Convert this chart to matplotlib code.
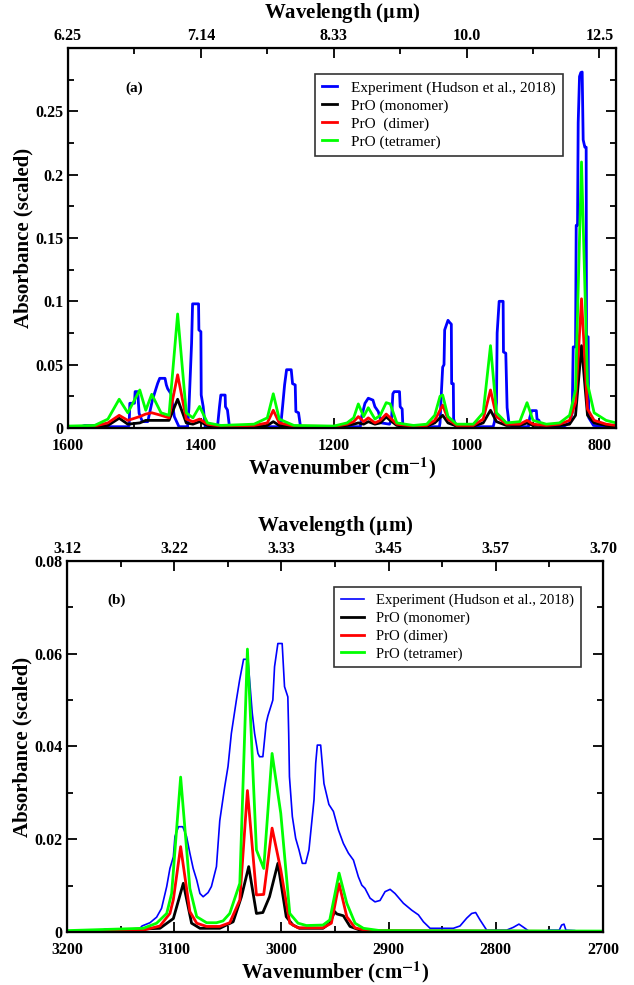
import numpy as np
import matplotlib
matplotlib.use("Agg")
import matplotlib.pyplot as plt
from matplotlib.ticker import MultipleLocator, FixedLocator

plt.rcParams['font.family'] = ['Liberation Serif', 'DejaVu Serif']
plt.rcParams['mathtext.fontset'] = 'stix'

# ---------------- panel (a) data: 1600 - 775 cm-1 ----------------
# experiment (Hudson et al., 2018)
exp_a_wn = [1600, 1580, 1575, 1558, 1555, 1510, 1508, 1507, 1500, 1499, 1495, 1494, 1493, 1488,
            1480, 1473, 1465, 1462, 1454, 1452, 1450, 1445, 1440, 1433, 1420, 1418, 1414, 1412.5,
            1403.5, 1403, 1400, 1399.5, 1396.5, 1393.5, 1375, 1372, 1370, 1363.5, 1363, 1360, 1357,
            1280, 1277, 1274, 1271, 1264, 1262, 1258, 1257, 1253, 1250,
            1160, 1158, 1153, 1148, 1141, 1138, 1133, 1128, 1116, 1113, 1111, 1109, 1101, 1100,
            1097, 1096, 1090,
            1041, 1040, 1038, 1036, 1034, 1033, 1028, 1025, 1023, 1022.5, 1020, 1019.5, 1016,
            960, 958, 955, 954, 951, 945, 944.5, 941, 939, 936, 930,
            907, 905, 902, 895, 894, 891, 888,
            855, 845, 841, 839.5, 836, 835, 833, 832, 830, 828, 826, 824.5, 822, 820, 819.5, 817,
            816.5, 816, 809, 775]
exp_a_val = [0.001, 0.001, 0.002, 0.002, 0.001, 0.001, 0.002, 0.0195, 0.0195, 0.0287, 0.0287, 0.0195,
             0.0116, 0.005, 0.005, 0.022, 0.0353, 0.0392, 0.0392, 0.034, 0.031, 0.027, 0.009, 0.001,
             0.001, 0.0155, 0.067, 0.098, 0.098, 0.0774, 0.076, 0.026, 0.0168, 0.001, 0.001, 0.0168,
             0.026, 0.026, 0.0168, 0.0142, 0.001,
             0.001, 0.017, 0.034, 0.046, 0.046, 0.035, 0.034, 0.013, 0.012, 0.001,
             0.001, 0.009, 0.0195, 0.0235, 0.022, 0.0168, 0.013, 0.004, 0.003, 0.007, 0.027, 0.0287,
             0.0287, 0.0168, 0.015, 0.002, 0.001,
             0.001, 0.004, 0.0276, 0.048, 0.05, 0.0774, 0.085, 0.083, 0.082, 0.035, 0.035, 0.007, 0.001,
             0.001, 0.005, 0.02, 0.075, 0.1, 0.1, 0.06, 0.059, 0.016, 0.003, 0.001,
             0.001, 0.008, 0.0137, 0.0137, 0.007, 0.006, 0.001,
             0.001, 0.004, 0.012, 0.064, 0.064, 0.16, 0.16, 0.241, 0.2775, 0.2806, 0.281, 0.2275,
             0.2217, 0.2217, 0.072, 0.072, 0.027, 0.008, 0.002, 0.001]

# computed spectra (PrO)
calc_a_wn = [1600, 1560, 1540, 1523, 1510, 1492, 1483, 1474, 1460, 1448, 1435, 1422, 1412, 1402,
             1390, 1370, 1320, 1300, 1291, 1282, 1260, 1200, 1180, 1170, 1163, 1155, 1148, 1138,
             1130, 1121, 1115, 1105, 1080, 1060, 1048, 1040, 1036, 1028, 1015, 990, 975, 964, 955,
             940, 920, 909, 900, 880, 860, 845, 836, 827, 818, 808, 790, 775]
mono_a = [0.0005, 0.001, 0.002, 0.0077, 0.003, 0.004, 0.006, 0.006, 0.006, 0.006, 0.0227, 0.004,
          0.003, 0.005, 0.002, 0.001, 0.001, 0.002, 0.005, 0.002, 0.001, 0.0008, 0.002, 0.003, 0.004,
          0.003, 0.005, 0.003, 0.004, 0.0087, 0.006, 0.002, 0.001, 0.0015, 0.004, 0.008, 0.010, 0.004,
          0.0015, 0.0015, 0.004, 0.014, 0.005, 0.002, 0.002, 0.004, 0.002, 0.002, 0.002, 0.003, 0.010,
          0.065, 0.010, 0.004, 0.002, 0.0015]
dimer_a = [0.001, 0.0015, 0.004, 0.010, 0.006, 0.009, 0.011, 0.012, 0.010, 0.008, 0.042, 0.007,
           0.005, 0.007, 0.003, 0.0015, 0.002, 0.004, 0.014, 0.004, 0.0015, 0.0012, 0.003, 0.005,
           0.009, 0.005, 0.008, 0.004, 0.006, 0.011, 0.008, 0.003, 0.0015, 0.002, 0.006, 0.014, 0.018,
           0.007, 0.002, 0.002, 0.007, 0.030, 0.009, 0.003, 0.003, 0.006, 0.003, 0.002, 0.003, 0.006,
           0.020, 0.102, 0.015, 0.006, 0.003, 0.002]
tetra_a = [0.0015, 0.002, 0.007, 0.0227, 0.012, 0.030, 0.014, 0.0266, 0.012, 0.010, 0.090, 0.012,
           0.008, 0.017, 0.004, 0.002, 0.003, 0.008, 0.027, 0.007, 0.002, 0.0015, 0.004, 0.008, 0.019,
           0.009, 0.016, 0.007, 0.010, 0.020, 0.019, 0.004, 0.002, 0.003, 0.010, 0.025, 0.026, 0.009,
           0.003, 0.003, 0.012, 0.065, 0.012, 0.004, 0.005, 0.020, 0.006, 0.003, 0.004, 0.010, 0.030,
           0.210, 0.035, 0.012, 0.006, 0.004]

# ---------------- panel (b) data: 3200 - 2700 cm-1 ----------------
exp_b_wn = [3200, 3172, 3164.5, 3149, 3133.5, 3130, 3122.6, 3116.4, 3111.8, 3107, 3104, 3100.8,
            3099.3, 3096, 3092, 3088.5, 3085.4, 3082.3, 3079, 3076, 3073, 3068.4, 3065.3, 3060.6,
            3057.5, 3052.9, 3049.8, 3046.7, 3042, 3039, 3035.3, 3031.2, 3027.2, 3025, 3021.9, 3020.4,
            3017.3, 3014.2, 3012.6, 3008, 3006.4, 3003.3, 2999.3, 2997.1, 2994, 2993.2, 2992.5,
            2989.8, 2986.7, 2983.6, 2980.5, 2977.4, 2974.3, 2969.6, 2968, 2966.5, 2963.4, 2960.3,
            2955.7, 2951.5, 2946.8, 2942.2, 2937.5, 2932.8, 2928.2, 2925, 2922, 2917.3, 2912.7,
            2908, 2903.3, 2898.6, 2894, 2886.2, 2878.4, 2872.2, 2867.5, 2861.3, 2839.6, 2833.4,
            2827.1, 2822.5, 2818.8, 2814.7, 2808.5, 2789.9, 2783.7, 2778.4, 2772.8, 2768.1, 2755.7,
            2751, 2740.8, 2738.6, 2736.4, 2734.6, 2726.2, 2721.5, 2700]
exp_b_val = [0.0, 0.0, 0.0006, 0.0006, 0.0004, 0.0013, 0.002, 0.0032, 0.0051, 0.0098, 0.0137,
             0.0162, 0.0206, 0.0227, 0.0227, 0.0206, 0.017, 0.0137, 0.0112, 0.0083, 0.0076, 0.0085,
             0.0098, 0.0141, 0.024, 0.0313, 0.0357, 0.0428, 0.05, 0.0543, 0.0588, 0.0588, 0.0472,
             0.0428, 0.0385, 0.0378, 0.0378, 0.045, 0.0466, 0.05, 0.0572, 0.0622, 0.0622, 0.0529,
             0.0507, 0.0428, 0.0335, 0.0249, 0.0202, 0.0177, 0.0148, 0.0148, 0.0177, 0.0285, 0.0364,
             0.0403, 0.0403, 0.032, 0.0275, 0.026, 0.022, 0.0191, 0.017, 0.0155, 0.0119, 0.0101,
             0.0094, 0.0073, 0.0065, 0.0068, 0.0087, 0.0092, 0.0083, 0.0062, 0.0047, 0.0037, 0.0022,
             0.0008, 0.0008, 0.0013, 0.003, 0.004, 0.0042, 0.0026, 0.0004, 0.0004, 0.001, 0.0017,
             0.0008, 0.0, 0.0, 0.0004, 0.0004, 0.0015, 0.0017, 0.0004, 0.0003, 0.0, 0.0]

mono_b_wn = [3200, 3113.3, 3100.8, 3091.5, 3083.8, 3076, 3057.5, 3045, 3037.3, 3030.5, 3023.3, 3017.3,
             3011.1, 3003.3, 2995.5, 2989.3, 2983.1, 2961.2, 2954.9, 2950.3, 2948.3, 2942.2, 2936,
             2926.7, 2908, 2700]
mono_b = [0.0, 0.0008, 0.0029, 0.0105, 0.0019, 0.0008, 0.0008, 0.0022, 0.0076, 0.0141, 0.004, 0.0042,
          0.0076, 0.0148, 0.0033, 0.0015, 0.0008, 0.0008, 0.0019, 0.0044, 0.0039, 0.0035, 0.0012,
          0.0004, 0.0002, 0.0001]
dimer_b_wn = [3200, 3128.9, 3113.3, 3104, 3100.8, 3094, 3085.4, 3079, 3069.8, 3057.5, 3048.2, 3038.8,
              3031.7, 3023.3, 3016.5, 3008.7, 3000.6, 2992.2, 2984.5, 2961.2, 2953.4, 2946.2, 2939,
              2931.3, 2920.5, 2700]
dimer_b = [0.0001, 0.0004, 0.0013, 0.004, 0.007, 0.0184, 0.0044, 0.0019, 0.0012, 0.0012, 0.002,
           0.0069, 0.0305, 0.008, 0.0081, 0.0224, 0.0134, 0.0019, 0.0009, 0.0009, 0.0019, 0.0104,
           0.0033, 0.0009, 0.0003, 0.0001]
tetra_b_wn = [3200, 3128.9, 3116.4, 3107, 3102.4, 3094, 3085.4, 3079, 3069.8, 3060.6, 3054.4, 3048.2,
              3038.8, 3031.7, 3023.3, 3016.5, 3008.7, 3000.6, 2992.2, 2984.5, 2976.7, 2961.2, 2954.9,
              2946.2, 2939, 2931.3, 2923.5, 2908, 2700]
tetra_b = [0.0003, 0.0008, 0.0019, 0.004, 0.0083, 0.0334, 0.0094, 0.0033, 0.002, 0.002, 0.0024, 0.004,
           0.0105, 0.061, 0.0177, 0.0137, 0.0385, 0.0256, 0.004, 0.0019, 0.0014, 0.0015, 0.0026,
           0.0127, 0.0062, 0.0019, 0.0008, 0.0003, 0.0002]

# top axis: wavelength labels placed at the wavenumber ticks
top_a_ticks = [1600, 1400, 1200, 1000, 800]
top_a_labels = ['6.25', '7.14', '8.33', '10.0', '12.5']
top_b_ticks = [3200, 3100, 3000, 2900, 2800, 2700]
top_b_labels = ['3.12', '3.22', '3.33', '3.45', '3.57', '3.70']

fig = plt.figure(figsize=(6.34, 9.85), dpi=100)
ax_a = fig.add_axes([0.1073, 0.5655, 0.8644, 0.3858])
ax_b = fig.add_axes([0.1057, 0.0538, 0.8454, 0.3767])


def style_axis(ax, xlim, ylim, xmaj, xmin, ymaj, ymin):
    ax.set_xlim(*xlim)
    ax.set_ylim(*ylim)
    ax.xaxis.set_major_locator(MultipleLocator(xmaj))
    ax.xaxis.set_minor_locator(MultipleLocator(xmin))
    ax.yaxis.set_major_locator(MultipleLocator(ymaj))
    ax.yaxis.set_minor_locator(MultipleLocator(ymin))
    ax.tick_params(which='both', direction='in', top=False, right=True, width=1.3)
    ax.tick_params(which='major', length=7, labelsize=11.5)
    ax.tick_params(which='minor', length=4)
    ax.tick_params(axis='x', pad=7)
    for s in ax.spines.values():
        s.set_linewidth(1.6)
    for lab in ax.get_xticklabels() + ax.get_yticklabels():
        lab.set_fontweight('bold')
    ax.set_xlabel(r'Wavenumber (cm$^{\mathbf{-1}}$)', fontsize=15, fontweight='bold', labelpad=1)
    ax.set_ylabel('Absorbance (scaled)', fontsize=15, fontweight='bold', labelpad=1)


def top_axis(ax, ticks, labels, minor):
    tw = ax.twiny()
    tw.set_xlim(ax.get_xlim())
    tw.xaxis.set_major_locator(FixedLocator(ticks))
    tw.xaxis.set_minor_locator(FixedLocator(minor))
    tw.set_xticklabels(labels, fontweight='bold')
    tw.tick_params(which='both', direction='in', width=1.3, labelsize=11.5, pad=3)
    tw.tick_params(which='major', length=7)
    tw.tick_params(which='minor', length=4)
    tw.set_xlabel(r'Wavelength ($\mathbf{\mu}$m)', fontsize=15, fontweight='bold', labelpad=7)
    return tw


# panel (a)
ax_a.plot(exp_a_wn, exp_a_val, color='blue', lw=2.0, label='Experiment (Hudson et al., 2018)')
ax_a.plot(calc_a_wn, mono_a, color='black', lw=2.0, label='PrO (monomer)')
ax_a.plot(calc_a_wn, dimer_a, color='red', lw=2.0, label='PrO  (dimer)')
ax_a.plot(calc_a_wn, tetra_a, color='#00ff00', lw=2.0, label='PrO (tetramer)')
style_axis(ax_a, (1600, 775), (0, 0.3), 200, 100, 0.05, 0.025)
ax_a.set_yticks([0, 0.05, 0.1, 0.15, 0.2, 0.25])
ax_a.set_yticklabels(['0', '0.05', '0.1', '0.15', '0.2', '0.25'], fontweight='bold')
top_axis(ax_a, top_a_ticks, top_a_labels, [1500, 1300, 1100, 900])
ax_a.text(0.105, 0.885, '(a)', transform=ax_a.transAxes, fontsize=11, fontweight='bold')
leg = ax_a.legend(loc='upper left', bbox_to_anchor=(0.451, 0.932), fontsize=11, frameon=True,
                  fancybox=False, edgecolor='black', handlelength=1.0, handletextpad=0.9,
                  borderaxespad=0, borderpad=0.45, labelspacing=0.28)
leg.get_frame().set_linewidth(1.2)

# panel (b)
ax_b.plot(exp_b_wn, exp_b_val, color='blue', lw=1.2, label='Experiment (Hudson et al., 2018)')
ax_b.plot(mono_b_wn, mono_b, color='black', lw=2.0, label='PrO (monomer)')
ax_b.plot(dimer_b_wn, dimer_b, color='red', lw=2.0, label='PrO (dimer)')
ax_b.plot(tetra_b_wn, tetra_b, color='#00ff00', lw=2.0, label='PrO (tetramer)')
style_axis(ax_b, (3200, 2700), (0, 0.08), 100, 50, 0.02, 0.01)
ax_b.set_yticks([0, 0.02, 0.04, 0.06, 0.08])
ax_b.set_yticklabels(['0', '0.02', '0.04', '0.06', '0.08'], fontweight='bold')
top_axis(ax_b, top_b_ticks, top_b_labels, [3150, 3050, 2950, 2850, 2750])
ax_b.text(0.075, 0.885, '(b)', transform=ax_b.transAxes, fontsize=11, fontweight='bold')
leg = ax_b.legend(loc='upper left', bbox_to_anchor=(0.498, 0.930), fontsize=10.6, frameon=True,
                  fancybox=False, edgecolor='black', handlelength=1.6, handletextpad=0.8,
                  borderaxespad=0, borderpad=0.45, labelspacing=0.3)
leg.get_frame().set_linewidth(1.2)

fig.savefig('out.png', dpi=100)
